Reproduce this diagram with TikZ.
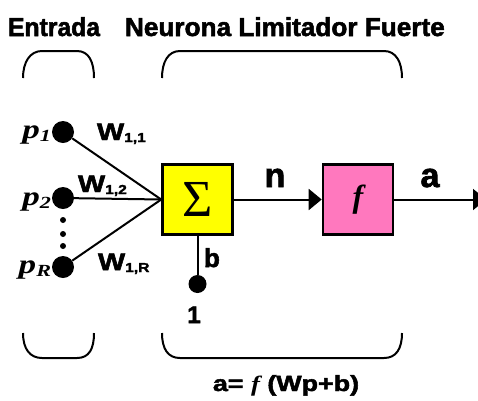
\documentclass[tikz,border=0pt]{standalone}
\usepackage{fontspec}
\setmainfont{Liberation Serif}[BoldFeatures={FakeBold=1.5}]
\newfontfamily\sansf{Liberation Sans}[BoldFeatures={FakeBold=2}]
\usetikzlibrary{arrows.meta}
\definecolor{sumyellow}{RGB}{255,255,0}
\definecolor{fpink}{RGB}{255,120,190}
\tikzset{
  lbl/.style={inner sep=0pt, outer sep=0pt},
  conn/.style={line width=2pt},
  arr/.style={line width=2pt, -{Triangle[length=13pt,width=21pt]}},
  bracket/.style={line width=2pt},
  blockbox/.style={draw, line width=2.6pt, minimum width=70pt, minimum height=70pt, inner sep=0pt},
  bigdot/.style={circle, fill=black, inner sep=0pt, minimum size=22pt},
  smalldot/.style={circle, fill=black, inner sep=0pt, minimum size=6pt},
}
\newcommand{\sanslab}[2]{{\sansf\bfseries\fontsize{#1}{#1}\selectfont #2}}
\newcommand{\plab}[1]{{\bfseries\itshape\fontsize{27}{27}\selectfont\scalebox{1.3}[1]{p\raisebox{-3pt}{\fontsize{17}{17}\selectfont #1}}}}
\newcommand{\wlab}[1]{{\sansf\bfseries\scalebox{1.2}[1]{\fontsize{24}{24}\selectfont W\raisebox{-2pt}{\fontsize{13}{13}\selectfont #1}}}}
\begin{document}
\begin{tikzpicture}[x=1pt,y=-1pt]
\clip (0,0) rectangle (478,400);
% titles
\node[lbl, anchor=base west] (t1) at (8,36) {\sanslab{24}{\scalebox{1.03}[1.08]{Entrada}}};
\node[lbl, anchor=base west] (t2) at (125,36) {\sanslab{24}{\scalebox{1.09}[1.08]{Neurona Limitador Fuerte}}};
% brackets
\draw[bracket] (23,78) .. controls (23,62) and (30,51) .. (42,51) -- (77,51) .. controls (89,51) and (94,62) .. (94,78);
\draw[bracket] (162,78) .. controls (162,62) and (168,51) .. (180,51) -- (384,51) .. controls (396,51) and (402,62) .. (402,78);
\draw[bracket] (23,333) .. controls (23,349) and (30,358) .. (42,358) -- (77,358) .. controls (89,358) and (94,349) .. (94,333);
\draw[bracket] (162,333) .. controls (162,349) and (168,358) .. (180,358) -- (384,358) .. controls (396,358) and (402,349) .. (402,333);
% blocks
\node[blockbox, fill=sumyellow] (sum) at (197.5,199.5) {\fontsize{52}{52}\selectfont Σ};
\node[blockbox, fill=fpink] (f) at (358,199.5) {\fontsize{32}{32}\selectfont\bfseries\itshape f};
% inputs
\node[bigdot] (p1) at (63,132) {};
\node[bigdot] (p2) at (63,198) {};
\node[bigdot] (pR) at (63,267) {};
\node[smalldot] (d1) at (63,220) {};
\node[smalldot] (d2) at (63,234) {};
\node[smalldot] (d3) at (63,246) {};
\node[lbl, anchor=base east] (lp1) at (51,138) {\plab{1}};
\node[lbl, anchor=base east] (lp2) at (51,205) {\plab{2}};
\node[lbl, anchor=base east] (lpR) at (51,273) {\plab{R}};
\draw[conn] (p1) -- (sum.west);
\draw[conn] (p2) -- (sum.west);
\draw[conn] (pR) -- (sum.west);
\node[lbl, anchor=base west] (w11) at (97,140) {\wlab{1,1}};
\node[lbl, anchor=base west] (w12) at (78,192) {\wlab{1,2}};
\node[lbl, anchor=base west] (w1R) at (98,270) {\wlab{1,R}};
% bias
\node[circle, fill=black, inner sep=0pt, minimum size=18pt] (bias) at (197.5,284) {};
\draw[conn] (sum.south) -- (bias);
\node[lbl, anchor=base west] (lb) at (204,267) {\sanslab{26}{b}};
\node[lbl, anchor=base] (l1) at (194,323) {\sanslab{24}{1}};
% forward
\draw[arr] (sum.east) -- (f.west);
\coordinate (out) at (486,199.5);
\draw[arr] (f.east) -- (out);
\node[lbl, anchor=base] (ln) at (275,187) {\sanslab{34}{n}};
\node[lbl, anchor=base] (la) at (430,187) {\sanslab{34}{a}};
% equation
\node[lbl, anchor=base] (eq) at (286,391) {\sanslab{22}{\scalebox{1.22}[1]{a= {\rmfamily\bfseries\itshape f} (Wp+b)}}};
\end{tikzpicture}
\end{document}
